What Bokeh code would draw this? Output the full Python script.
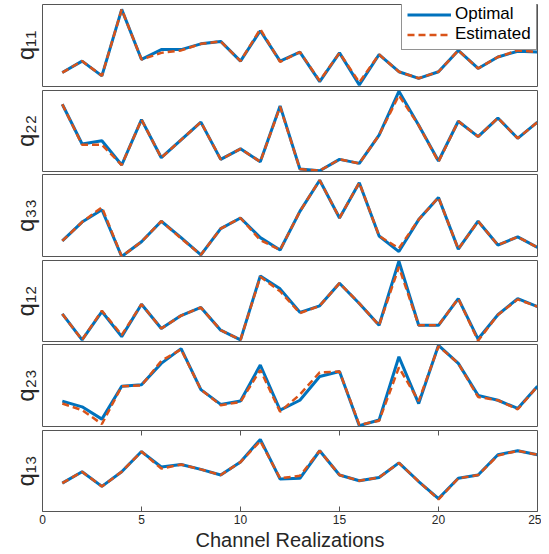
from bokeh.plotting import figure
from bokeh.layouts import column
from bokeh.models import Range1d, FixedTicker, Legend, LegendItem
from bokeh.embed import file_html
from bokeh.resources import INLINE

# ---------------- data ----------------
realizations = list(range(1, 26))
x_ticks = [0, 5, 10, 15, 20, 25]
panel_labels = ["q\u2081\u2081", "q\u2082\u2082", "q\u2083\u2083", "q\u2081\u2082", "q\u2082\u2083", "q\u2081\u2083"]
series_names = ["Optimal", "Estimated"]
x_label = "Channel Realizations"

q11_optimal = [0.17, 0.31, 0.13, 0.94, 0.33, 0.45, 0.45, 0.52, 0.55, 0.31, 0.68, 0.31, 0.42,
               0.06, 0.41, 0.02, 0.39, 0.18, 0.10, 0.18, 0.44, 0.22, 0.36, 0.43, 0.42]
q11_estimated = [0.17, 0.31, 0.13, 0.94, 0.33, 0.41, 0.44, 0.52, 0.55, 0.31, 0.70, 0.30, 0.42,
                 0.07, 0.41, 0.05, 0.39, 0.18, 0.10, 0.18, 0.44, 0.22, 0.36, 0.44, 0.42]

q22_optimal = [0.83, 0.34, 0.38, 0.08, 0.64, 0.17, 0.39, 0.61, 0.15, 0.28, 0.12, 0.81, 0.03,
               0.01, 0.15, 0.10, 0.45, 0.99, 0.57, 0.13, 0.62, 0.43, 0.66, 0.41, 0.61]
q22_estimated = [0.83, 0.33, 0.33, 0.08, 0.64, 0.17, 0.39, 0.61, 0.15, 0.28, 0.12, 0.80, 0.03,
                 0.01, 0.15, 0.10, 0.45, 0.94, 0.57, 0.12, 0.62, 0.43, 0.66, 0.41, 0.61]

q33_optimal = [0.19, 0.42, 0.57, 0.00, 0.18, 0.43, 0.23, 0.02, 0.34, 0.47, 0.23, 0.08, 0.55,
               0.93, 0.47, 0.90, 0.25, 0.06, 0.45, 0.72, 0.09, 0.43, 0.14, 0.24, 0.11]
q33_estimated = [0.19, 0.42, 0.60, 0.00, 0.18, 0.43, 0.22, 0.02, 0.34, 0.47, 0.20, 0.08, 0.55,
                 0.93, 0.47, 0.90, 0.25, 0.10, 0.45, 0.72, 0.09, 0.43, 0.14, 0.24, 0.11]

q12_optimal = [0.34, 0.02, 0.37, 0.06, 0.46, 0.16, 0.32, 0.42, 0.14, 0.02, 0.81, 0.65, 0.36,
               0.44, 0.72, 0.47, 0.20, 0.99, 0.20, 0.20, 0.53, 0.03, 0.33, 0.53, 0.43]
q12_estimated = [0.34, 0.02, 0.38, 0.08, 0.46, 0.16, 0.32, 0.42, 0.14, 0.02, 0.80, 0.62, 0.35,
                 0.44, 0.72, 0.47, 0.20, 0.92, 0.20, 0.20, 0.53, 0.01, 0.33, 0.52, 0.43]

q23_optimal = [0.31, 0.24, 0.09, 0.49, 0.51, 0.77, 0.95, 0.45, 0.27, 0.31, 0.75, 0.20, 0.32,
               0.61, 0.67, 0.01, 0.08, 0.85, 0.28, 0.99, 0.77, 0.38, 0.32, 0.22, 0.49]
q23_estimated = [0.28, 0.20, 0.03, 0.49, 0.50, 0.80, 0.94, 0.45, 0.26, 0.30, 0.69, 0.18, 0.39,
                 0.66, 0.67, 0.02, 0.07, 0.72, 0.31, 0.98, 0.77, 0.36, 0.32, 0.21, 0.49]

q13_optimal = [0.35, 0.49, 0.31, 0.49, 0.74, 0.55, 0.58, 0.52, 0.45, 0.61, 0.89, 0.40, 0.41,
               0.75, 0.45, 0.38, 0.42, 0.60, 0.37, 0.16, 0.41, 0.45, 0.70, 0.75, 0.70]
q13_estimated = [0.35, 0.49, 0.31, 0.49, 0.74, 0.53, 0.58, 0.52, 0.45, 0.61, 0.87, 0.41, 0.44,
                 0.75, 0.45, 0.38, 0.42, 0.60, 0.37, 0.15, 0.41, 0.45, 0.69, 0.75, 0.70]

optimal_series = [q11_optimal, q22_optimal, q33_optimal, q12_optimal, q23_optimal, q13_optimal]
estimated_series = [q11_estimated, q22_estimated, q33_estimated, q12_estimated, q23_estimated, q13_estimated]

# ---------------- styling ----------------
FONT = "Liberation Sans"
BLUE = "#0072BD"
ORANGE = "#D95319"
FRAME = "#555555"
TEXT = "#262626"

frame_heights = [82, 81, 82, 81, 82, 81]
gaps_below = [4, 3, 4, 3, 4, 0]
TICK_PX = 5

figs = []
n = len(panel_labels)
for i in range(n):
    last = (i == n - 1)
    p = figure(
        frame_width=495, frame_height=frame_heights[i],
        x_range=Range1d(0, 25), y_range=Range1d(0, 1),
        output_backend="svg", toolbar_location=None,
        min_border_left=42, min_border_right=4,
        min_border_top=4 if i == 0 else 0, min_border_bottom=gaps_below[i],
        x_axis_location="below" if last else None,
        background_fill_color="white", border_fill_color="white",
        outline_line_color=FRAME, outline_line_width=1,
    )
    p.xgrid.visible = False
    p.ygrid.visible = False

    # y axis: label only
    ya = p.yaxis[0]
    ya.ticker = FixedTicker(ticks=[])
    ya.major_tick_line_color = None
    ya.minor_tick_line_color = None
    ya.axis_line_color = None
    ya.major_label_standoff = 0
    ya.axis_label = panel_labels[i]
    ya.axis_label_text_font = FONT
    ya.axis_label_text_font_size = "24px"
    ya.axis_label_text_font_style = "normal"
    ya.axis_label_text_color = TEXT
    ya.axis_label_standoff = 4

    if last:
        xa = p.xaxis[0]
        xa.ticker = FixedTicker(ticks=x_ticks)
        xa.major_tick_in = TICK_PX
        xa.major_tick_out = 0
        xa.minor_tick_line_color = None
        xa.axis_line_color = None
        xa.major_tick_line_color = FRAME
        xa.major_label_text_font = FONT
        xa.major_label_text_font_size = "12px"
        xa.major_label_text_color = TEXT
        xa.major_label_standoff = 3
        xa.axis_label = x_label
        xa.axis_label_text_font = FONT
        xa.axis_label_text_font_size = "20px"
        xa.axis_label_text_font_style = "normal"
        xa.axis_label_text_color = TEXT
        xa.axis_label_standoff = 2
        # mirrored inward ticks on the top edge of the box
        tick_len = TICK_PX / frame_heights[i]
        p.segment(x0=x_ticks, x1=x_ticks, y0=[1.0] * len(x_ticks),
                  y1=[1.0 - tick_len] * len(x_ticks), line_color=FRAME, line_width=1)

    r_opt = p.line(realizations, optimal_series[i], line_color=BLUE, line_width=3)
    r_est = p.line(realizations, estimated_series[i], line_color=ORANGE, line_width=2.5,
                   line_dash="7 4")

    if i == 0:
        legend = Legend(
            items=[LegendItem(label=series_names[0], renderers=[r_opt]),
                   LegendItem(label=series_names[1], renderers=[r_est])],
            location=(359, 36), margin=0, padding=5, spacing=0,
            label_height=19, glyph_height=19, glyph_width=44, label_standoff=4,
            label_text_font=FONT, label_text_font_size="17px", label_text_color="black",
            border_line_color="#262626", border_line_width=1,
            background_fill_color="white", background_fill_alpha=1.0,
        )
        p.add_layout(legend, "center")
    figs.append(p)

layout = column(*figs, spacing=0)

open("out.html", "w").write(file_html(layout, INLINE))
